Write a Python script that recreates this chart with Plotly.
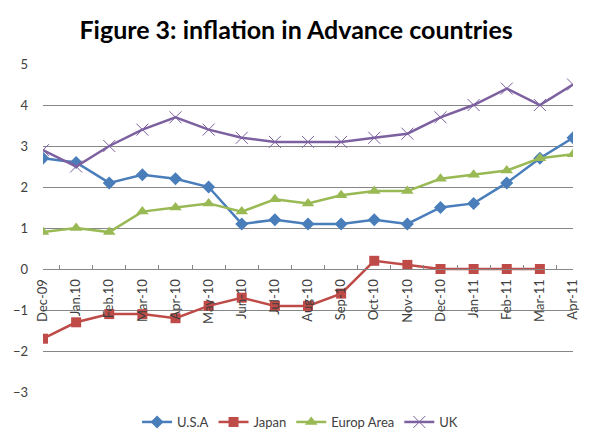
import plotly.graph_objects as go

months = ["Dec-09", "Jan.10", "Feb.10", "Mar-10", "Apr-10", "May-10", "Jun-10", "Jul-10",
          "Aug-10", "Sep-10", "Oct-10", "Nov-10", "Dec-10", "Jan-11", "Feb-11", "Mar-11", "Apr-11"]
usa = [2.7, 2.6, 2.1, 2.3, 2.2, 2.0, 1.1, 1.2, 1.1, 1.1, 1.2, 1.1, 1.5, 1.6, 2.1, 2.7, 3.2]
japan = [-1.7, -1.3, -1.1, -1.1, -1.2, -0.9, -0.7, -0.9, -0.9, -0.6, 0.2, 0.1, 0, 0, 0, 0, None]
europe = [0.9, 1.0, 0.9, 1.4, 1.5, 1.6, 1.4, 1.7, 1.6, 1.8, 1.9, 1.9, 2.2, 2.3, 2.4, 2.7, 2.8]
uk = [2.9, 2.5, 3.0, 3.4, 3.7, 3.4, 3.2, 3.1, 3.1, 3.1, 3.2, 3.3, 3.7, 4.0, 4.4, 4.0, 4.5]

fig = go.Figure()
fig.add_trace(go.Scatter(x=months, y=usa, name="U.S.A", mode="lines+markers",
                         line=dict(color="#4a7ebb", width=2.5),
                         marker=dict(symbol="diamond", size=10, color="#4a7ebb")))
fig.add_trace(go.Scatter(x=months, y=japan, name="Japan", mode="lines+markers",
                         line=dict(color="#be4b48", width=2.5),
                         marker=dict(symbol="square", size=10, color="#be4b48")))
fig.add_trace(go.Scatter(x=months, y=europe, name="Europ Area", mode="lines+markers",
                         line=dict(color="#98b954", width=2.5),
                         marker=dict(symbol="triangle-up", size=11, color="#98b954")))
fig.add_trace(go.Scatter(x=months, y=uk, name="UK", mode="lines+markers",
                         line=dict(color="#7d60a0", width=2.5),
                         marker=dict(symbol="x-thin-open", size=12,
                                     line=dict(color="#b3a2c7", width=1))))

# page has an 8px body margin, so the figure is 8px smaller than the window
fig.update_layout(
    width=582, height=436,
    margin=dict(l=35, r=17, t=56, b=52, autoexpand=False),
    paper_bgcolor="white", plot_bgcolor="white",
    font=dict(family="Lato, Liberation Sans, sans-serif", size=13, color="#404040"),
    title=dict(text="<b>Figure 3: inflation in Advance countries</b>", x=0.495, xanchor="center",
               y=0.95, yanchor="middle", font=dict(size=25, color="black")),
    legend=dict(orientation="h", x=0.485, xanchor="center", y=-0.0915, yanchor="middle",
                font=dict(size=13, color="#404040"), itemwidth=30),
    showlegend=True,
)
fig.update_xaxes(type="category", range=[0, 16], anchor="free", position=0.375,
                 showline=True, linecolor="#868686", linewidth=1, automargin=False,
                 ticks="inside", ticklen=4, tickcolor="#868686", tickson="boundaries",
                 ticklabelstandoff=4,
                 tickangle=-90, showgrid=False, tickfont=dict(size=13, color="#404040"))
fig.update_yaxes(range=[-3, 5], dtick=1, showgrid=True, gridcolor="#868686", gridwidth=1,
                 zeroline=False, showline=False, ticks="", automargin=False,
                 ticklabelstandoff=14, tickfont=dict(size=13, color="#404040"))
# chart frame on the right
fig.add_shape(type="line", xref="paper", yref="paper", x0=1.0283, x1=1.0283, y0=-0.2, y1=1.2,
              line=dict(color="#7f7f7f", width=1))

fig.write_html("out.html")
